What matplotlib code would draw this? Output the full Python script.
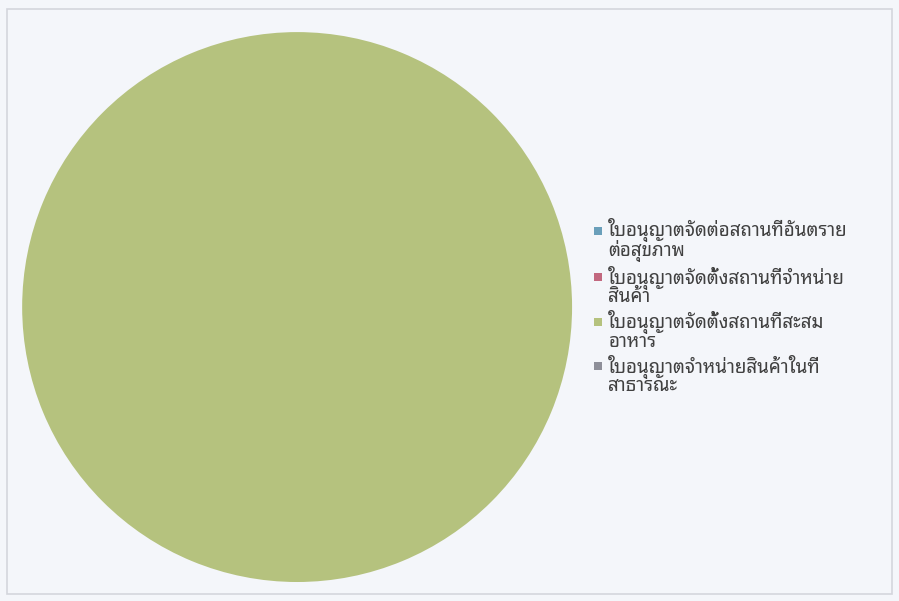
import matplotlib
matplotlib.use('Agg')
import matplotlib.pyplot as plt
from matplotlib.legend_handler import HandlerPatch

plt.rcParams['font.family'] = ['Noto Sans Thai Looped', 'DejaVu Sans']

# license types and counts
labels = ['ใบอนุญาตจัดต่อสถานที่อันตราย\nต่อสุขภาพ',
          'ใบอนุญาตจัดตั้งสถานที่จำหน่าย\nสินค้า',
          'ใบอนุญาตจัดตั้งสถานที่สะสม\nอาหาร',
          'ใบอนุญาตจำหน่ายสินค้าในที่\nสาธารณะ']
counts = [0, 0, 1, 0]
colors = ['#6a9fba', '#c2687f', '#b5c27e', '#8e8f99']

bg = '#f4f6fa'
fig = plt.figure(figsize=(8.99, 6.01), dpi=100, facecolor=bg)

# outer frame
fig.patches.append(plt.Rectangle((0.008, 0.012), 0.984, 0.973, transform=fig.transFigure,
                                 fill=False, edgecolor='#d4d6dc', linewidth=1.2))

ax = fig.add_axes([0.0245, 0.0316, 0.612, 0.915])
ax.set_facecolor(bg)
wedges, _ = ax.pie(counts, colors=colors, startangle=90, counterclock=False,
                   wedgeprops={'linewidth': 0})
ax.set_xlim(-1, 1)
ax.set_ylim(-1, 1)
ax.set_aspect('equal')
ax.axis('off')


# square marker placed next to the first line of each label
def top_square(legend, orig_handle, xdescent, ydescent, width, height, fontsize):
    s = 0.42 * fontsize
    return plt.Rectangle((-xdescent, -ydescent + height - s + 0.08 * fontsize), s, s)


fs = 13.5
leg = fig.legend(wedges, labels, loc='upper left', bbox_to_anchor=(0.661, 0.638),
                 frameon=False, fontsize=fs, handlelength=0.42, handleheight=1.6,
                 handletextpad=0.33, labelspacing=0.22, labelcolor='#404040',
                 borderpad=0, borderaxespad=0,
                 handler_map={matplotlib.patches.Wedge: HandlerPatch(patch_func=top_square)})
for t in leg.get_texts():
    t.set_linespacing(0.88)

fig.savefig('out.png', facecolor=bg)
